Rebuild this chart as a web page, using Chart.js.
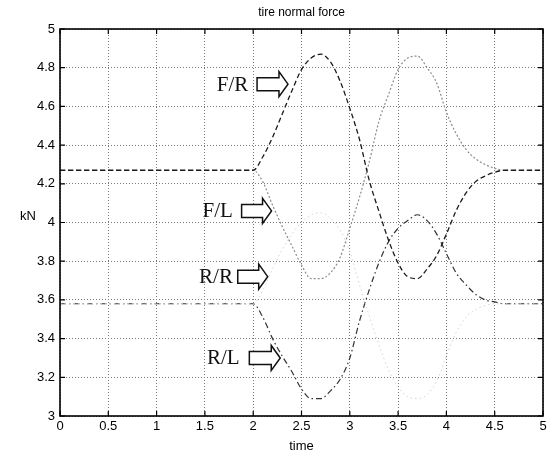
<!DOCTYPE html>
<html>
<head>
<meta charset="utf-8">
<title>tire normal force</title>
<script src="https://cdn.jsdelivr.net/npm/chart.js@4/dist/chart.umd.min.js"></script>
<style>
  html, body { margin: 0; padding: 0; background: #fff; }
  #chart { display: block; }
</style>
</head>
<body>
<canvas id="chart" width="559" height="456"></canvas>
<script>
// time axis (s)
const time = [0, 1, 2, 2.1, 2.2, 2.3, 2.4, 2.5, 2.6, 2.7, 2.8, 2.9, 3.0,
              3.1, 3.2, 3.3, 3.4, 3.5, 3.6, 3.7, 3.8, 3.9, 4.0,
              4.1, 4.2, 4.3, 4.4, 4.5, 4.6, 4.8, 5];

// normal force per wheel (kN)
const frontRight = [4.27, 4.27, 4.27, 4.34, 4.44, 4.56, 4.68, 4.79, 4.85, 4.87, 4.83, 4.73, 4.59,
                    4.43, 4.22, 4.06, 3.91, 3.79, 3.72, 3.71, 3.76, 3.83, 3.94,
                    4.06, 4.15, 4.21, 4.24, 4.26, 4.27, 4.27, 4.27];
const frontLeft  = [4.27, 4.27, 4.27, 4.21, 4.09, 3.98, 3.88, 3.78, 3.71, 3.71, 3.74, 3.82, 3.97,
                    4.13, 4.31, 4.52, 4.66, 4.79, 4.85, 4.86, 4.80, 4.72, 4.57,
                    4.46, 4.38, 4.33, 4.30, 4.28, 4.27, 4.27, 4.27];
const rearRight  = [3.58, 3.58, 3.58, 3.65, 3.76, 3.86, 3.94, 4.00, 4.04, 4.05, 4.02, 3.96, 3.85,
                    3.68, 3.52, 3.37, 3.24, 3.15, 3.10, 3.09, 3.11, 3.18, 3.31,
                    3.43, 3.51, 3.55, 3.57, 3.58, 3.58, 3.58, 3.58];
const rearLeft   = [3.58, 3.58, 3.58, 3.51, 3.40, 3.31, 3.23, 3.14, 3.09, 3.09, 3.13, 3.19, 3.30,
                    3.49, 3.65, 3.79, 3.90, 3.97, 4.01, 4.04, 4.01, 3.94, 3.84,
                    3.74, 3.68, 3.63, 3.60, 3.59, 3.58, 3.58, 3.58];

const xTickValues = [0, 0.5, 1, 1.5, 2, 2.5, 3, 3.5, 4, 4.5, 5];
const xTickLabels = ['0', '0.5', '1', '1.5', '2', '2.5', '3', '3.5', '4', '4.5', '5'];
const yTickValues = [3, 3.2, 3.4, 3.6, 3.8, 4, 4.2, 4.4, 4.6, 4.8, 5];
const yTickLabels = ['3', '3.2', '3.4', '3.6', '3.8', '4', '4.2', '4.4', '4.6', '4.8', '5'];

const toPoints = ys => ys.map((y, i) => ({ x: time[i], y: y }));

// labels with hollow arrows pointing at the curves (data coordinates)
const callouts = [
  { text: 'F/R', textX: 1.95, y: 4.715, from: 2.04, to: 2.36 },
  { text: 'F/L', textX: 1.79, y: 4.06,  from: 1.88, to: 2.19 },
  { text: 'R/R', textX: 1.79, y: 3.72,  from: 1.84, to: 2.15 },
  { text: 'R/L', textX: 1.86, y: 3.30,  from: 1.96, to: 2.28 }
];

const frame = {
  id: 'frame',
  afterDatasetsDraw(chart) {
    const { ctx, chartArea: a, scales: { x, y } } = chart;
    ctx.save();

    // inward tick marks on all four sides
    ctx.strokeStyle = '#000';
    ctx.lineWidth = 1.2;
    ctx.beginPath();
    xTickValues.forEach(v => {
      const px = x.getPixelForValue(v);
      ctx.moveTo(px, a.bottom); ctx.lineTo(px, a.bottom - 5);
      ctx.moveTo(px, a.top); ctx.lineTo(px, a.top + 5);
    });
    yTickValues.forEach(v => {
      const py = y.getPixelForValue(v);
      ctx.moveTo(a.left, py); ctx.lineTo(a.left + 5, py);
      ctx.moveTo(a.right, py); ctx.lineTo(a.right - 5, py);
    });
    ctx.stroke();

    // box
    ctx.lineWidth = 1.6;
    ctx.strokeRect(a.left, a.top, a.right - a.left, a.bottom - a.top);

    // callouts
    ctx.font = '21px "Liberation Serif", "Times New Roman", serif';
    ctx.fillStyle = '#111';
    ctx.textAlign = 'right';
    ctx.textBaseline = 'middle';
    callouts.forEach(c => {
      const py = y.getPixelForValue(c.y);
      ctx.fillText(c.text, x.getPixelForValue(c.textX), py + 1);
      const x0 = x.getPixelForValue(c.from);
      const x1 = x.getPixelForValue(c.to);
      const head = x1 - 9;
      ctx.beginPath();
      ctx.moveTo(x0, py - 6.5);
      ctx.lineTo(head, py - 6.5);
      ctx.lineTo(head, py - 12.5);
      ctx.lineTo(x1, py);
      ctx.lineTo(head, py + 12.5);
      ctx.lineTo(head, py + 6.5);
      ctx.lineTo(x0, py + 6.5);
      ctx.closePath();
      ctx.fillStyle = '#fff';
      ctx.fill();
      ctx.lineWidth = 1.5;
      ctx.strokeStyle = '#111';
      ctx.stroke();
      ctx.fillStyle = '#111';
    });

    // title and axis names
    ctx.font = '12px "Liberation Sans", Arial, sans-serif';
    ctx.fillStyle = '#000';
    ctx.textAlign = 'center';
    ctx.textBaseline = 'middle';
    ctx.fillText('tire normal force', (a.left + a.right) / 2, 13);
    ctx.font = '13px "Liberation Sans", Arial, sans-serif';
    ctx.fillText('time', (a.left + a.right) / 2, 446);
    ctx.fillText('kN', 28, (a.top + a.bottom) / 2 - 6);
    ctx.restore();
  }
};

const tickFont = { family: '"Liberation Sans", Arial, sans-serif', size: 13 };

new Chart(document.getElementById('chart'), {
  type: 'line',
  data: {
    datasets: [
      { label: 'F/R', data: toPoints(frontRight), borderColor: '#1a1a1a', borderWidth: 1.3, borderDash: [5, 3] },
      { label: 'F/L', data: toPoints(frontLeft),  borderColor: '#8c8c8c', borderWidth: 1.2, borderDash: [2, 2] },
      { label: 'R/R', data: toPoints(rearRight),  borderColor: '#d2d2d2', borderWidth: 1,   borderDash: [1.5, 3] },
      { label: 'R/L', data: toPoints(rearLeft),   borderColor: '#333333', borderWidth: 1.2, borderDash: [6, 3, 1.5, 3] }
    ]
  },
  options: {
    responsive: false,
    animation: false,
    cubicInterpolationMode: 'monotone',
    elements: { point: { radius: 0 }, line: { fill: false } },
    layout: { padding: { top: 29, right: 16, left: 0, bottom: 0 } },
    plugins: { legend: { display: false }, title: { display: false }, tooltip: { enabled: false } },
    scales: {
      x: {
        type: 'linear',
        min: 0, max: 5,
        afterBuildTicks: s => { s.ticks = xTickValues.map(v => ({ value: v })); },
        afterFit: s => { s.height = 40; },
        ticks: {
          color: '#000', font: tickFont, padding: 3, maxRotation: 0,
          callback: (v, i) => xTickLabels[i]
        },
        grid: { color: '#7a7a7a', lineWidth: 1, drawTicks: false },
        border: { display: false, dash: [1, 2] }
      },
      y: {
        type: 'linear',
        min: 3, max: 5,
        afterBuildTicks: s => { s.ticks = yTickValues.map(v => ({ value: v })); },
        afterFit: s => { s.width = 60; },
        ticks: {
          color: '#000', font: tickFont, padding: 5,
          callback: (v, i) => yTickLabels[i]
        },
        grid: { color: '#7a7a7a', lineWidth: 1, drawTicks: false },
        border: { display: false, dash: [1, 2] }
      }
    }
  },
  plugins: [frame]
});
</script>
</body>
</html>
